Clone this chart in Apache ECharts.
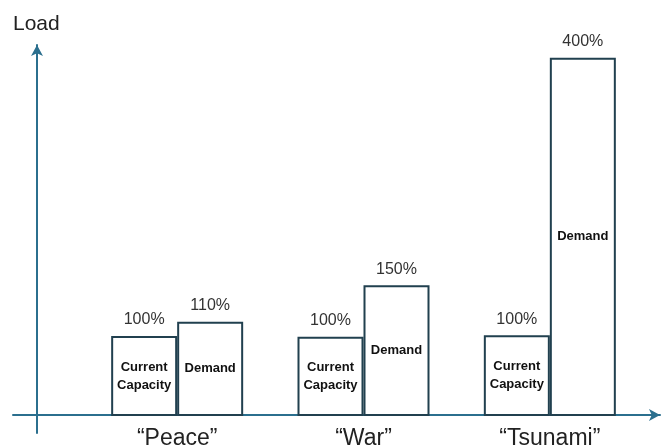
<!DOCTYPE html>
<html>
<head>
<meta charset="utf-8">
<script src="https://cdn.jsdelivr.net/npm/echarts@6/dist/echarts.min.js"></script>
<style>
    html, body { margin: 0; padding: 0; background: #fff; }
    #chart { width: 665px; height: 446px; }
</style>
</head>
<body>
<div id="chart"></div>
<script>
// scenarios along the x axis
const categories = ['\u201cPeace\u201d', '\u201cWar\u201d', '\u201cTsunami\u201d']
// drawn bar heights (percent of capacity, as they appear in the picture)
const capacityValues = [101, 100, 102]
const demandValues = [119, 165, 452]
// printed labels above the bars
const capacityLabels = ['100%', '100%', '100%']
const demandLabels = ['110%', '150%', '400%']

const axisColor = '#2b6f8e'
const barBorder = '#21404f'
const font = 'Liberation Sans'

const myChart = echarts.init(document.getElementById('chart'))

const barStyle = {
    color: '#ffffff',
    borderColor: barBorder,
    borderWidth: 2
}
const innerLabel = {
    show: true,
    position: 'inside',
    color: '#111',
    fontFamily: font,
    fontWeight: 'bold',
    fontSize: 13,
    lineHeight: 18
}
const topLabel = (texts) => ({
    show: true,
    position: 'top',
    distance: 8,
    color: '#333',
    fontFamily: font,
    fontSize: 16,
    formatter: p => texts[p.dataIndex]
})
const zeros = categories.map(() => 0)

const option = {
    animation: false,
    title: {
        text: 'Load',
        left: 8,
        top: 9,
        textStyle: { color: '#222', fontFamily: font, fontSize: 21, fontWeight: 'normal' }
    },
    grid: [
        // bars
        { left: 84, right: 22, top: 45, bottom: 30, outerBoundsMode: 'none' },
        // arrowed axis lines
        { left: 13, right: 5, top: 45, bottom: 13, outerBoundsMode: 'none' }
    ],
    xAxis: [
        {
            type: 'category',
            gridIndex: 0,
            data: categories,
            axisLine: { show: false },
            axisTick: { show: false },
            axisLabel: { margin: 11, color: '#222', fontFamily: font, fontSize: 23 }
        },
        {
            type: 'value',
            gridIndex: 1,
            min: -24,
            max: 623,
            axisLine: {
                show: true,
                onZero: true,
                symbol: ['none', 'arrow'],
                symbolSize: [9, 11],
                lineStyle: { color: axisColor, width: 2 }
            },
            axisTick: { show: false },
            axisLabel: { show: false },
            splitLine: { show: false }
        }
    ],
    yAxis: [
        {
            type: 'value',
            gridIndex: 0,
            min: 0,
            max: 468,
            axisLine: { show: false },
            axisTick: { show: false },
            axisLabel: { show: false },
            splitLine: { show: false }
        },
        {
            type: 'value',
            gridIndex: 1,
            min: -18,
            max: 370,
            axisLine: {
                show: true,
                onZero: true,
                symbol: ['none', 'arrow'],
                symbolSize: [9, 11],
                lineStyle: { color: axisColor, width: 2 }
            },
            axisTick: { show: false },
            axisLabel: { show: false },
            splitLine: { show: false }
        }
    ],
    series: [
        {
            name: 'Current Capacity',
            type: 'bar',
            stack: 'cap',
            barWidth: 66,
            barGap: '0%',
            itemStyle: barStyle,
            label: Object.assign({}, innerLabel, { formatter: 'Current\nCapacity' }),
            data: capacityValues
        },
        {
            name: 'capTop',
            type: 'bar',
            stack: 'cap',
            barWidth: 66,
            itemStyle: { color: 'rgba(0,0,0,0)', borderWidth: 0 },
            label: topLabel(capacityLabels),
            data: zeros
        },
        {
            name: 'Demand',
            type: 'bar',
            stack: 'dem',
            barWidth: 66,
            barGap: '0%',
            itemStyle: barStyle,
            label: Object.assign({}, innerLabel, { formatter: 'Demand' }),
            data: demandValues
        },
        {
            name: 'demTop',
            type: 'bar',
            stack: 'dem',
            barWidth: 66,
            itemStyle: { color: 'rgba(0,0,0,0)', borderWidth: 0 },
            label: topLabel(demandLabels),
            data: zeros
        }
    ]
}
myChart.setOption(option)
</script>
</body>
</html>
